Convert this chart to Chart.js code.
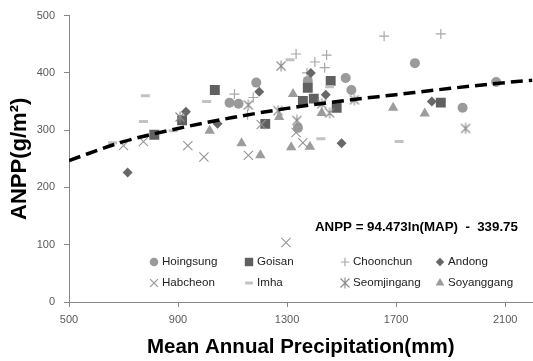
<!DOCTYPE html>
<html>
<head>
<meta charset="utf-8">
<style>
  html, body { margin: 0; padding: 0; background: #fff; overflow: hidden; width: 533px; height: 361px; }
  canvas { display: block; }
</style>
<script src="https://cdn.jsdelivr.net/npm/chart.js@4.4.0/dist/chart.umd.min.js"></script>
</head>
<body>
<canvas id="chart" width="540" height="361" style="width:540px;height:361px"></canvas>
<script>
// ANPP vs mean annual precipitation, 8 sites + log trend

const hoingsungMap  = [1089, 1122, 1187, 1340, 1376, 1515, 1536, 1769, 1944, 2067];
const hoingsungAnpp = [348, 346, 383, 304, 386, 391, 370, 417, 339, 384];

const goisanMap  = [813, 915, 1035, 1220, 1358, 1376, 1398, 1460, 1482, 1864];
const goisanAnpp = [292, 317, 370, 311, 351, 374, 355, 386, 339, 348];

const choonchunMap  = [1107, 1155, 1176, 1333, 1373, 1402, 1438, 1445, 1656, 1864];
const choonchunAnpp = [363, 327, 357, 433, 400, 419, 409, 431, 464, 468];

const andongMap  = [715, 929, 1045, 1198, 1387, 1442, 1500, 1831];
const andongAnpp = [226, 332, 311, 367, 400, 362, 277, 350];

const habcheonMap  = [700, 773, 936, 995, 1158, 1205, 1296, 1333, 1358];
const habcheonAnpp = [273, 280, 273, 253, 256, 310, 104, 296, 278];

const imhaMap  = [660, 773, 780, 882, 1005, 1311, 1424, 1456, 1711];
const imhaAnpp = [278, 315, 360, 299, 350, 423, 285, 376, 280];

const seomjingangMap  = [907, 1158, 1267, 1278, 1336, 1427, 1456, 1547, 1955];
const seomjingangAnpp = [323, 344, 334, 412, 317, 346, 330, 353, 303];

const soyanggangMap  = [1016, 1133, 1202, 1271, 1315, 1322, 1384, 1427, 1689, 1805];
const soyanggangAnpp = [299, 277, 256, 323, 270, 363, 271, 330, 339, 329];

// dashed trend curve
const trendMap  = [500, 700, 900, 1100, 1300, 1500, 1700, 1900, 2100, 2200];
const trendAnpp = [247, 280, 303, 322, 338, 351, 362, 373, 383, 387];

const xTicks = [500, 900, 1300, 1700, 2100];
const yTicks = [0, 100, 200, 300, 400, 500];
const equation = 'ANPP = 94.473ln(MAP)  -  339.75';

const toPts = (xs, ys) => xs.map((x, i) => ({ x, y: ys[i] }));

// Excel-style asterisk: x plus a vertical bar
function asterisk(size, color) {
  const c = document.createElement('canvas');
  c.width = size; c.height = size;
  const g = c.getContext('2d');
  g.strokeStyle = color;
  g.lineWidth = 1.1;
  const m = size / 2, d = size / 2 - 1.5;
  g.beginPath();
  g.moveTo(m - d, m - d); g.lineTo(m + d, m + d);
  g.moveTo(m + d, m - d); g.lineTo(m - d, m + d);
  g.moveTo(m, 0.5); g.lineTo(m, size - 0.5);
  g.stroke();
  return c;
}

const series = [
  { label: 'Hoingsung',   xs: hoingsungMap,   ys: hoingsungAnpp,   style: 'circle',   r: 5,   fill: '#9a9a9a', stroke: '#9a9a9a', bw: 0 },
  { label: 'Goisan',      xs: goisanMap,      ys: goisanAnpp,      style: 'rect',     r: 7,   fill: '#606060', stroke: '#606060', bw: 0 },
  { label: 'Choonchun',   xs: choonchunMap,   ys: choonchunAnpp,   style: 'cross',    r: 5,   fill: 'rgba(0,0,0,0)', stroke: '#a8a8a8', bw: 1.2 },
  { label: 'Andong',      xs: andongMap,      ys: andongAnpp,      style: 'rectRot',  r: 5,   fill: '#676767', stroke: '#676767', bw: 0 },
  { label: 'Habcheon',    xs: habcheonMap,    ys: habcheonAnpp,    style: 'crossRot', r: 6.5, fill: 'rgba(0,0,0,0)', stroke: '#959595', bw: 1.1 },
  { label: 'Imha',        xs: imhaMap,        ys: imhaAnpp,        style: 'line',     r: 4.5, fill: 'rgba(0,0,0,0)', stroke: '#c2c2c2', bw: 3 },
  { label: 'Seomjingang', xs: seomjingangMap, ys: seomjingangAnpp, style: asterisk(12, '#8a8a8a'), r: 6, fill: 'rgba(0,0,0,0)', stroke: '#8a8a8a', bw: 1.1 },
  { label: 'Soyanggang',  xs: soyanggangMap,  ys: soyanggangAnpp,  style: 'triangle', r: 6,   fill: '#9c9c9c', stroke: '#9c9c9c', bw: 0 }
];

const datasets = series.map((s, i) => ({
  label: s.label,
  data: toPts(s.xs, s.ys),
  showLine: false,
  pointStyle: s.style,
  pointRadius: s.r,
  pointBackgroundColor: s.fill,
  pointBorderColor: s.stroke,
  pointBorderWidth: s.bw,
  order: series.length - i + 1
}));

datasets.push({
  label: 'trend',
  data: toPts(trendMap, trendAnpp),
  showLine: true,
  borderColor: '#000',
  borderWidth: 3.5,
  borderDash: [12, 6],
  pointRadius: 0,
  tension: 0.4,
  cubicInterpolationMode: 'monotone',
  order: 0
});

// legend inside the plot + regression equation
const overlay = {
  id: 'overlay',
  afterDraw(chart) {
    const ctx = chart.ctx;
    ctx.save();
    ctx.font = 'bold 13.3px "Liberation Sans", Arial, sans-serif';
    ctx.fillStyle = '#000';
    ctx.textBaseline = 'middle';
    ctx.textAlign = 'left';
    ctx.fillText(equation, 315, 227);

    const colX = [154, 249, 345, 440];
    const rowY = [262, 283];
    series.forEach((s, i) => {
      const x = colX[i % 4], y = rowY[Math.floor(i / 4)];
      ctx.fillStyle = s.fill;
      ctx.strokeStyle = s.stroke;
      ctx.lineWidth = s.bw;
      Chart.helpers.drawPoint(ctx, { pointStyle: s.style, radius: s.r * 0.85, rotation: 0, borderWidth: s.bw }, x, y);
      ctx.font = '11.6px "Liberation Sans", Arial, sans-serif';
      ctx.fillStyle = '#222';
      ctx.fillText(s.label, x + 8, y);
    });
    ctx.restore();
  }
};

new Chart(document.getElementById('chart'), {
  type: 'scatter',
  data: { datasets },
  plugins: [overlay],
  options: {
    responsive: false,
    animation: false,
    layout: { padding: { top: 13, right: 3, left: 0, bottom: 0 } },
    plugins: { legend: { display: false }, tooltip: { enabled: false } },
    scales: {
      x: {
        type: 'linear',
        min: 500,
        max: 2200,
        afterBuildTicks: (s) => { s.ticks = xTicks.map(v => ({ value: v })); },
        afterFit: (s) => { s.height = 59; },
        grid: { drawOnChartArea: false, drawTicks: true, tickLength: 5, color: '#868686' },
        border: { color: '#868686', width: 1 },
        ticks: {
          color: '#595959', font: { family: '"Liberation Sans", Arial', size: 11 }, padding: 6, maxRotation: 0,
          callback: (v) => String(v)
        },
        title: {
          display: true,
          text: 'Mean Annual Precipitation(mm)',
          color: '#000',
          font: { family: '"Liberation Sans", Arial', size: 20.5, weight: 'bold' },
          padding: { top: 1, bottom: 1 }
        }
      },
      y: {
        min: 0,
        max: 500,
        afterBuildTicks: (s) => { s.ticks = yTicks.map(v => ({ value: v })); },
        afterFit: (s) => { s.width = 69; },
        grid: { drawOnChartArea: false, drawTicks: true, tickLength: 5, color: '#868686' },
        border: { color: '#868686', width: 1 },
        ticks: {
          color: '#595959', font: { family: '"Liberation Sans", Arial', size: 11 }, padding: 9,
          callback: (v) => String(v)
        },
        title: {
          display: true,
          text: 'ANPP(g/m²)',
          color: '#000',
          font: { family: '"Liberation Sans", Arial', size: 22, weight: 'bold' },
          padding: { top: 7, bottom: 7 }
        }
      }
    }
  }
});
</script>
</body>
</html>
